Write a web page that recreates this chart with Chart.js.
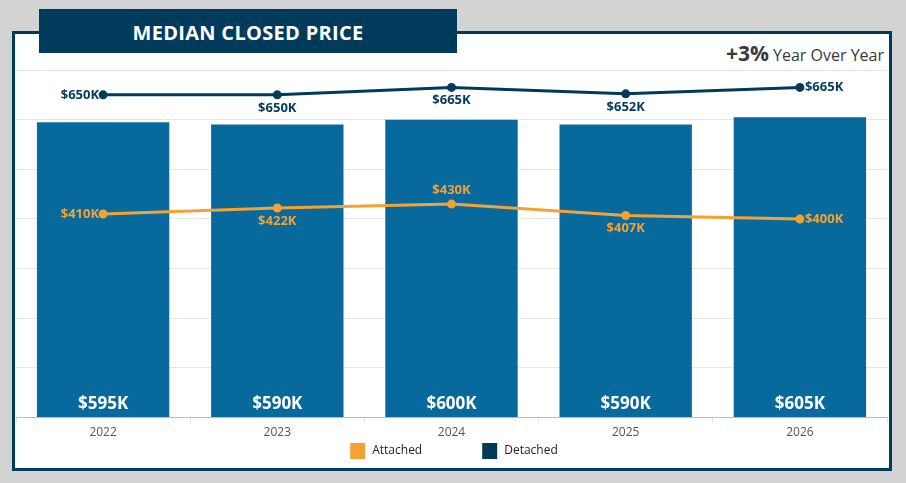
<!DOCTYPE html>
<html>
<head>
<meta charset="utf-8">
<script src="https://cdn.jsdelivr.net/npm/chart.js@4"></script>
<style>
  html, body { margin: 0; padding: 0; }
  body {
    width: 906px;
    height: 483px;
    background: #d3d3d3;
    position: relative;
    overflow: hidden;
    font-family: "Open Sans", "Noto Sans", sans-serif;
  }
  .panel {
    position: absolute;
    left: 12px;
    top: 31px;
    width: 874px;
    height: 434px;
    border: 3px solid #003b5c;
    background: #fff;
  }
  .title {
    position: absolute;
    left: 39px;
    top: 9px;
    width: 418px;
    height: 44px;
    background: #003b5c;
    color: #fff;
    font-weight: 700;
    font-size: 20px;
    line-height: 47px;
    text-align: center;
    letter-spacing: 0.3px;
  }
  .yoy {
    position: absolute;
    right: 22px;
    top: 39px;
    color: #3a3a3a;
    font-size: 16px;
    white-space: nowrap;
  }
  .yoy b { font-size: 21px; font-weight: 700; }
  #chart { position: absolute; left: 0; top: 0; }
</style>
</head>
<body>
<div class="panel"></div>
<div class="title">MEDIAN CLOSED PRICE</div>
<div class="yoy"><b>+3%</b> Year Over Year</div>
<canvas id="chart" width="906" height="483"></canvas>

<script>
// values in thousands of dollars
const years = ["2022", "2023", "2024", "2025", "2026"];
const overallMedian = [595, 590, 600, 590, 605];
const attachedMedian = [410, 422, 430, 407, 400];
const detachedMedian = [650, 650, 665, 652, 665];
const yTicks = [0, 100, 200, 300, 400, 500, 600, 700];

const BAR_COLOR = "#086a9c";
const ATTACHED_COLOR = "#f5a133";
const DETACHED_COLOR = "#003b5c";

// where each point label sits relative to its point
const attachedLabelSide = ["left", "below", "above", "below", "right"];
const detachedLabelSide = ["left", "below", "below", "below", "right"];

const fmt = (v) => "$" + v + "K";

// value labels on bars and line points
const valueLabels = {
  id: "valueLabels",
  afterDatasetsDraw(chart) {
    const ctx = chart.ctx;
    ctx.save();

    // bar labels near the bottom of each bar
    const barMeta = chart.getDatasetMeta(0);
    ctx.font = "700 17px 'Open Sans', sans-serif";
    ctx.fillStyle = "#ffffff";
    ctx.textAlign = "center";
    ctx.textBaseline = "middle";
    barMeta.data.forEach((bar, i) => {
      ctx.fillText(fmt(overallMedian[i]), bar.x, bar.base - 13);
    });

    // line point labels
    ctx.font = "700 13px 'Open Sans', sans-serif";
    [
      [1, attachedMedian, attachedLabelSide, ATTACHED_COLOR],
      [2, detachedMedian, detachedLabelSide, DETACHED_COLOR],
    ].forEach(([idx, values, sides, color]) => {
      const meta = chart.getDatasetMeta(idx);
      ctx.fillStyle = color;
      meta.data.forEach((pt, i) => {
        const side = sides[i];
        let x = pt.x;
        let y = pt.y;
        if (side === "left") {
          ctx.textAlign = "right";
          x -= 4;
        } else if (side === "right") {
          ctx.textAlign = "left";
          x += 5;
        } else if (side === "above") {
          ctx.textAlign = "center";
          y -= 14;
        } else {
          ctx.textAlign = "center";
          y += 13;
        }
        ctx.fillText(fmt(values[i]), x, y);
      });
    });
    ctx.restore();
  },
};

// legend for the two line series
const lineLegend = {
  id: "lineLegend",
  afterDraw(chart) {
    const ctx = chart.ctx;
    const items = [chart.data.datasets[1], chart.data.datasets[2]];
    const box = 15;
    const gap = 60;
    ctx.save();
    ctx.font = "12px 'Open Sans', sans-serif";
    const widths = items.map((d) => box + 7 + ctx.measureText(d.label).width);
    const total = widths[0] + gap + widths[1];
    let x = (chart.width - total) / 2 + 1;
    const cy = 451;
    ctx.textAlign = "left";
    ctx.textBaseline = "middle";
    items.forEach((d, i) => {
      ctx.fillStyle = d.borderColor;
      ctx.fillRect(x, cy - 8, box, 16);
      ctx.fillStyle = "#1e1e1e";
      ctx.fillText(d.label, x + box + 7, cy);
      x += widths[i] + gap;
    });
    ctx.restore();
  },
};

const ctx = document.getElementById("chart");

new Chart(ctx, {
  type: "bar",
  data: {
    labels: years,
    datasets: [
      {
        type: "bar",
        label: "All",
        data: overallMedian,
        backgroundColor: BAR_COLOR,
        barPercentage: 0.76,
        categoryPercentage: 1,
        order: 10,
      },
      {
        type: "line",
        label: "Attached",
        data: attachedMedian,
        borderColor: ATTACHED_COLOR,
        backgroundColor: ATTACHED_COLOR,
        borderWidth: 3,
        pointRadius: 3,
        tension: 0,
        order: 2,
      },
      {
        type: "line",
        label: "Detached",
        data: detachedMedian,
        borderColor: DETACHED_COLOR,
        backgroundColor: DETACHED_COLOR,
        borderWidth: 3,
        pointRadius: 3,
        tension: 0,
        order: 1,
      },
    ],
  },
  options: {
    responsive: false,
    animation: false,
    layout: {
      padding: { left: 16, right: 19, top: 70, bottom: 41 },
    },
    plugins: {
      legend: { display: false },
      tooltip: { enabled: false },
    },
    scales: {
      x: {
        offset: true,
        grid: {
          offset: true,
          drawOnChartArea: false,
          drawTicks: true,
          tickLength: 6,
          color: "#e4e4e4",
        },
        border: {
          display: true,
          color: "#bdbdbd",
          dash: [2, 2],
        },
        ticks: {
          padding: 2,
          color: "#555555",
          font: { family: "'Open Sans', sans-serif", size: 12 },
        },
      },
      y: {
        min: yTicks[0],
        max: yTicks[yTicks.length - 1],
        afterBuildTicks: (scale) => {
          scale.ticks = yTicks.map((v) => ({ value: v }));
        },
        afterFit: (scale) => {
          scale.width = 0;
        },
        ticks: { display: false },
        border: { display: false },
        grid: {
          drawTicks: false,
          color: (c) => (c.tick && c.tick.value === 0 ? "rgba(0,0,0,0)" : "#e6e6e6"),
        },
      },
    },
  },
  plugins: [valueLabels, lineLegend],
});
</script>
</body>
</html>
